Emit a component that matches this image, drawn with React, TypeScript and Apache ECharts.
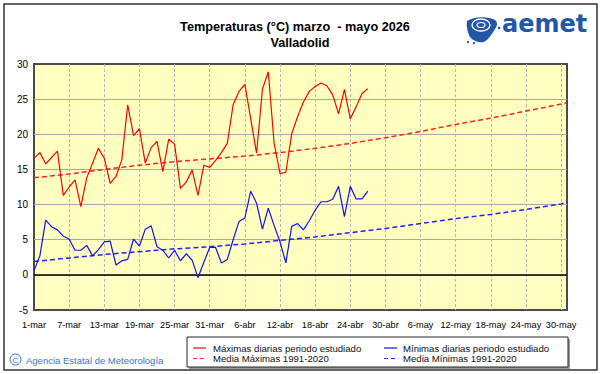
import React, { useEffect, useRef } from "react";
import * as echarts from "echarts";

const tickLabels = [
  "1-mar", "7-mar", "13-mar", "19-mar", "25-mar", "31-mar", "6-abr", "12-abr",
  "18-abr", "24-abr", "30-abr", "6-may", "12-may", "18-may", "24-may", "30-may",
];

// Daily maxima from 1-mar (day index 0)
const maxTemps = [
  16.6, 17.4, 15.8, 16.7, 17.6, 11.3, 12.5, 13.5, 9.7, 13.8,
  15.9, 18.0, 16.6, 13.0, 14.0, 16.4, 24.2, 19.8, 20.8, 15.9,
  18.1, 19.0, 14.7, 19.3, 18.6, 12.3, 13.2, 14.9, 11.3, 15.6,
  15.3, 16.3, 17.4, 18.7, 24.2, 26.1, 27.1, 22.2, 17.3, 26.4,
  28.9, 18.7, 14.4, 14.6, 20.1, 22.5, 24.6, 26.1, 26.8, 27.3,
  26.9, 25.6, 22.9, 26.4, 22.2, 23.9, 25.8, 26.5,
];

// Daily minima from 1-mar (day index 0)
const minTemps = [
  0.6, 2.7, 7.8, 6.85, 6.4, 5.5, 5.1, 3.5, 3.5, 4.2,
  2.7, 3.6, 4.7, 4.8, 1.4, 2.0, 2.2, 5.1, 4.1, 6.5,
  7.0, 4.0, 3.5, 2.4, 3.5, 2.0, 3.0, 2.1, -0.4, 1.8,
  3.9, 3.9, 1.7, 2.2, 5.0, 7.6, 8.1, 11.9, 10.2, 6.5,
  9.5, 7.0, 4.7, 1.7, 6.9, 7.3, 6.4, 7.7, 9.2, 10.4,
  10.4, 10.75, 12.6, 8.3, 12.6, 10.8, 10.8, 11.9,
];

// Climatological normals 1991-2020 sampled at these day indices
const normalDays = [0, 6, 12, 18, 24, 30, 36, 42, 48, 54, 60, 66, 72, 78, 84, 90, 91];
const normalMax = [13.8, 14.35, 15.0, 15.6, 16.1, 16.5, 16.9, 17.4, 18.0, 18.7, 19.5, 20.4, 21.4, 22.3, 23.3, 24.3, 24.5];
const normalMin = [1.9, 2.4, 2.9, 3.3, 3.7, 4.0, 4.4, 4.9, 5.4, 6.0, 6.6, 7.3, 8.0, 8.6, 9.3, 10.1, 10.3];

const seriesNames = [
  "Máximas diarias periodo estudiado",
  "Media Máximas 1991-2020",
  "Mínimas diarias periodo estudiado",
  "Media Mínimas 1991-2020",
];

const FONT = "'Liberation Sans', Arial, sans-serif";

const logoPath =
  "M2 6 C8 2 18 1 28 4 C33 6 33 10 30 14 C27 19 24 24 19 27 C14 28 8 26 5 22 C3 18 1 12 2 6 Z";
echarts.graphic.registerShape("aemetLogo", echarts.graphic.extendPath(logoPath, {}) as any);

export default function App() {
  const ref = useRef<HTMLDivElement>(null);

  useEffect(() => {
    if (!ref.current) return;
    const chart = echarts.init(ref.current, undefined, { renderer: "svg" });
    const pair = (arr: number[]) => arr.map((v, i) => [i, v]);
    const pairN = (arr: number[]) => arr.map((v, i) => [normalDays[i], v]);

    const legendText = (x: number, y: number, t: string) => ({
      type: "text",
      x,
      y,
      style: { text: t, fill: "#111", font: `9.6px ${FONT}`, textVerticalAlign: "middle" },
    });
    const legendLine = (x: number, y: number, color: string, dashed: boolean) => ({
      type: "line",
      shape: { x1: x, y1: y, x2: x + 13, y2: y },
      style: { stroke: color, lineWidth: 1.2, lineDash: dashed ? [4, 3] : null },
    });

    chart.setOption({
      animation: false,
      backgroundColor: "#ffffff",
      grid: {
        left: 34,
        right: 34,
        top: 64,
        bottom: 64,
        show: true,
        backgroundColor: "#FFFFC0",
        borderColor: "#4a4a4a",
        borderWidth: 2,
      },
      xAxis: {
        type: "value",
        min: 0,
        max: 91,
        interval: 6,
        axisLine: { show: false },
        axisTick: { show: false },
        axisLabel: {
          color: "#000",
          fontFamily: FONT,
          fontSize: 9.2,
          margin: 10,
          formatter: (v: number) => (v % 6 === 0 ? tickLabels[v / 6] ?? "" : ""),
        },
        splitLine: {
          show: true,
          showMinLine: false,
          showMaxLine: false,
          lineStyle: { color: "#b4b4b4", type: [3, 2], width: 1 },
        },
      },
      yAxis: {
        type: "value",
        min: -5,
        max: 30,
        interval: 5,
        axisLine: { show: false },
        axisTick: { show: false },
        axisLabel: { color: "#000", fontFamily: FONT, fontSize: 10, margin: 6 },
        splitLine: {
          show: true,
          showMinLine: false,
          showMaxLine: false,
          lineStyle: { color: "#a8a8a8", width: 1 },
        },
      },
      series: [
        {
          name: seriesNames[0],
          type: "line",
          data: pair(maxTemps),
          symbol: "none",
          lineStyle: { color: "#ff0000", width: 1.2 },
          z: 5,
          markLine: {
            silent: true,
            symbol: ["none", "none"],
            label: { show: false },
            lineStyle: { color: "#000", type: "solid", width: 1.5 },
            data: [{ yAxis: 0 }],
          },
        },
        {
          name: seriesNames[1],
          type: "line",
          data: pairN(normalMax),
          symbol: "none",
          lineStyle: { color: "#ff2020", width: 1.5, type: [5, 3] },
          z: 4,
        },
        {
          name: seriesNames[2],
          type: "line",
          data: pair(minTemps),
          symbol: "none",
          lineStyle: { color: "#1010ff", width: 1.2 },
          z: 5,
        },
        {
          name: seriesNames[3],
          type: "line",
          data: pairN(normalMin),
          symbol: "none",
          lineStyle: { color: "#2020ff", width: 1.5, type: [5, 3] },
          z: 4,
        },
      ],
      graphic: [
        {
          type: "rect",
          shape: { x: 4, y: 4, width: 593, height: 366 },
          style: { fill: "none", stroke: "#333", lineWidth: 1.5 },
          z: 10,
        },
        {
          type: "text",
          x: 295,
          y: 27,
          style: {
            text: "Temperaturas (°C) marzo  - mayo 2026",
            fill: "#000",
            font: `bold 12.7px ${FONT}`,
            textAlign: "center",
            textVerticalAlign: "middle",
          },
        },
        {
          type: "text",
          x: 300,
          y: 43,
          style: {
            text: "Valladolid",
            fill: "#000",
            font: `bold 12.7px ${FONT}`,
            textAlign: "center",
            textVerticalAlign: "middle",
          },
        },
        // logo icon
        {
          type: "aemetLogo",
          x: 465,
          y: 15,
          style: { fill: "#2456a8", stroke: "none" },
        },
        {
          type: "ellipse",
          shape: { cx: 481, cy: 25, rx: 9, ry: 6 },
          style: { fill: "none", stroke: "#ffffff", lineWidth: 1.4 },
        },
        {
          type: "ellipse",
          shape: { cx: 481, cy: 25, rx: 4, ry: 2.5 },
          style: { fill: "none", stroke: "#ffffff", lineWidth: 1.2 },
        },
        {
          type: "circle",
          shape: { cx: 468, cy: 42, r: 1.2 },
          style: { fill: "#2456a8" },
        },
        {
          type: "circle",
          shape: { cx: 474, cy: 43, r: 1.2 },
          style: { fill: "#2456a8" },
        },
        {
          type: "circle",
          shape: { cx: 499, cy: 28, r: 1.3 },
          style: { fill: "#2456a8" },
        },
        {
          type: "text",
          x: 502,
          y: 24,
          style: {
            text: "aemet",
            fill: "#2456a8",
            font: `bold 24px 'DejaVu Sans', Verdana, sans-serif`,
            textVerticalAlign: "middle",
          },
        },
        // footer
        {
          type: "circle",
          shape: { cx: 15.5, cy: 359.5, r: 5.5 },
          style: { fill: "none", stroke: "#3b6fd4", lineWidth: 1 },
        },
        {
          type: "text",
          x: 15.5,
          y: 360,
          style: {
            text: "C",
            fill: "#3b6fd4",
            font: `8px ${FONT}`,
            textAlign: "center",
            textVerticalAlign: "middle",
          },
        },
        {
          type: "text",
          x: 26,
          y: 360,
          style: {
            text: "Agencia Estatal de Meteorología",
            fill: "#3b6fd4",
            font: `9.5px ${FONT}`,
            textVerticalAlign: "middle",
          },
        },
        // legend box
        {
          type: "rect",
          shape: { x: 189, y: 339, width: 381, height: 30 },
          style: { fill: "#9a9a9a", stroke: "none" },
        },
        {
          type: "rect",
          shape: { x: 187, y: 337, width: 381, height: 30 },
          style: { fill: "#ffffff", stroke: "#222", lineWidth: 1 },
        },
        legendLine(193, 348, "#ff0000", false),
        legendText(213, 348, seriesNames[0]),
        legendLine(193, 358.5, "#ff2020", true),
        legendText(213, 358.5, seriesNames[1]),
        legendLine(384, 348, "#1010ff", false),
        legendText(403, 348, seriesNames[2]),
        legendLine(384, 358.5, "#2020ff", true),
        legendText(403, 358.5, seriesNames[3]),
      ],
    });

    return () => chart.dispose();
  }, []);

  return (
    <div
      ref={ref}
      style={{ position: "absolute", left: 0, top: 0, width: 601, height: 374, background: "#fff" }}
    />
  );
}
